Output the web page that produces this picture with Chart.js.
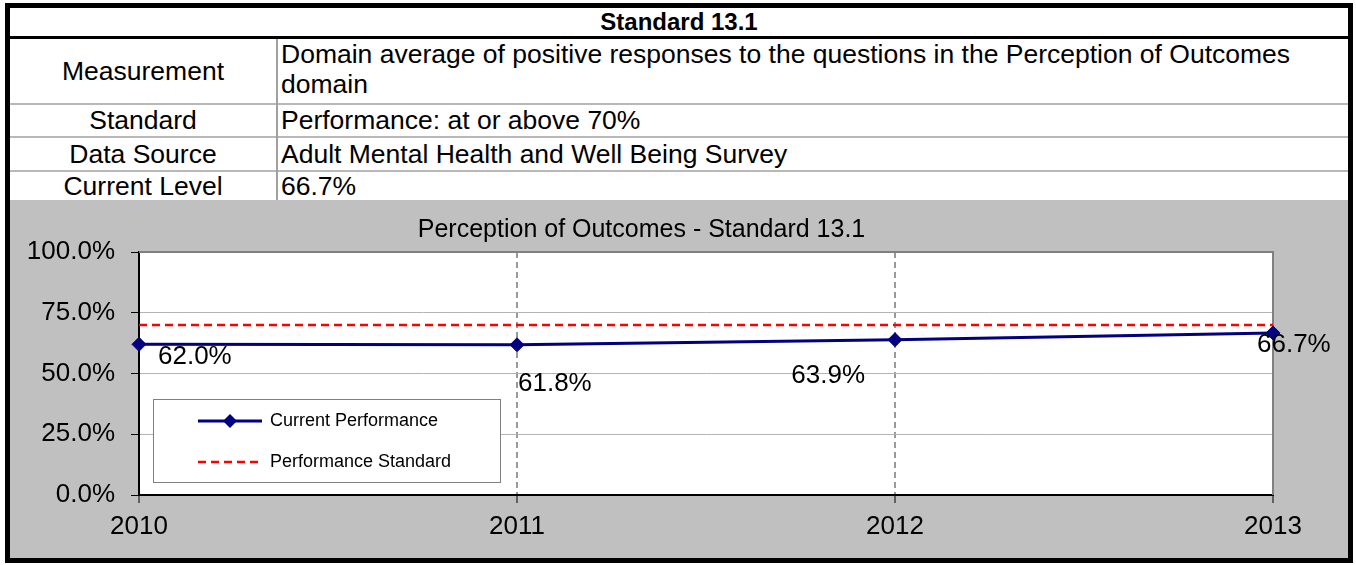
<!DOCTYPE html>
<html><head><meta charset="utf-8">
<script src="https://cdn.jsdelivr.net/npm/chart.js@4.4.1/dist/chart.umd.min.js"></script>
<style>
body{margin:0;background:#fff;font-family:"Liberation Sans",Arial,sans-serif;color:#000;}
#frame{position:absolute;left:5px;top:3px;width:1348px;height:560px;border:5px solid #000;box-sizing:border-box;background:#fff;}
.lbl{position:absolute;left:0;width:266px;display:flex;align-items:center;justify-content:center;font-size:26.5px;white-space:nowrap;}
.val{position:absolute;left:271px;width:1060px;display:flex;align-items:center;font-size:26.5px;white-space:nowrap;}
.sep{position:absolute;left:0;width:1338px;height:2px;background:#b8b8b8;}
#hdr{position:absolute;left:0;top:0;width:1338px;height:28px;display:flex;align-items:center;justify-content:center;font-size:24px;font-weight:bold;}
#hline{position:absolute;left:0;top:28px;width:1338px;height:3px;background:#000;}
#vdiv{position:absolute;left:266px;top:31px;width:2px;height:161px;background:#a0a0a0;}
#gray{position:absolute;left:0;top:192px;width:1338px;height:358px;background:#c0c0c0;}
#meas{position:absolute;left:271px;top:31px;font-size:26.5px;line-height:30px;}
canvas{position:absolute;left:0;top:0;}
</style>
</head><body>
<div id="frame">
  <div id="hdr">Standard 13.1</div>
  <div id="hline"></div>
  <div class="lbl" style="top:31px;height:64px;">Measurement</div>
  <div id="meas">Domain average of positive responses to the questions in the Perception of Outcomes<br>domain</div>
  <div class="sep" style="top:95px;"></div>
  <div class="lbl" style="top:97px;height:31px;">Standard</div>
  <div class="val" style="top:97px;height:31px;">Performance: at or above 70%</div>
  <div class="sep" style="top:128px;"></div>
  <div class="lbl" style="top:130px;height:32px;">Data Source</div>
  <div class="val" style="top:130px;height:32px;">Adult Mental Health and Well Being Survey</div>
  <div class="sep" style="top:162px;"></div>
  <div class="lbl" style="top:164px;height:28px;">Current Level</div>
  <div class="val" style="top:164px;height:28px;">66.7%</div>
  <div id="vdiv"></div>
  <div id="gray"><canvas id="c" width="1338" height="358"></canvas></div>
</div>
<script>
const categories = ['2010', '2011', '2012', '2013'];
const currentPerformance = [62.0, 61.8, 63.9, 66.7];
const performanceStandard = [70, 70, 70, 70];
const seriesNames = ['Current Performance', 'Performance Standard'];
const chartTitle = 'Perception of Outcomes - Standard 13.1';
const yMin = 0, yMax = 100, yStep = 25;

const FONT = '"Liberation Sans", Arial, sans-serif';
const NAVY = '#000080', RED = '#ff0000';

const plotBg = {
  id: 'plotBg',
  beforeDraw(chart) {
    const {ctx, chartArea: a} = chart;
    ctx.save(); ctx.fillStyle = '#fff';
    ctx.fillRect(a.left, a.top, a.right - a.left, a.bottom - a.top);
    ctx.restore();
  },
  beforeDatasetsDraw(chart) {
    const {ctx, chartArea: a} = chart;
    ctx.save(); ctx.strokeStyle = '#808080'; ctx.lineWidth = 2;
    ctx.beginPath();
    ctx.moveTo(a.left, a.top); ctx.lineTo(a.right, a.top); ctx.lineTo(a.right, a.bottom);
    ctx.stroke(); ctx.restore();
  }
};

const labelOffsets = [
  {dx: 19, dy: 12, align: 'left'},
  {dx: 1, dy: 39, align: 'left'},
  {dx: -30, dy: 36, align: 'right'},
  {dx: -16, dy: 12, align: 'left'}
];

const dataLabels = {
  id: 'dataLabels',
  afterDraw(chart) {
    const {ctx} = chart;
    const meta = chart.getDatasetMeta(0);
    ctx.save();
    ctx.font = '26px ' + FONT; ctx.fillStyle = '#000'; ctx.textBaseline = 'middle';
    meta.data.forEach((pt, i) => {
      const o = labelOffsets[i];
      ctx.textAlign = o.align;
      ctx.fillText(currentPerformance[i].toFixed(1) + '%', pt.x + o.dx, pt.y + o.dy);
    });
    ctx.restore();
  }
};

const legendBox = {
  id: 'legendBox',
  afterDraw(chart) {
    const {ctx} = chart;
    const x = 143, y = 199, w = 347, h = 83;
    ctx.save();
    ctx.fillStyle = '#fff'; ctx.fillRect(x, y, w, h);
    ctx.strokeStyle = '#808080'; ctx.lineWidth = 1; ctx.strokeRect(x + 0.5, y + 0.5, w, h);
    const rows = [y + 22, y + 63];
    ctx.strokeStyle = NAVY; ctx.lineWidth = 3;
    ctx.beginPath(); ctx.moveTo(188, rows[0]); ctx.lineTo(252, rows[0]); ctx.stroke();
    ctx.fillStyle = NAVY; ctx.beginPath();
    const cx = 220, cy = rows[0], r = 7;
    ctx.moveTo(cx - r, cy); ctx.lineTo(cx, cy - r); ctx.lineTo(cx + r, cy); ctx.lineTo(cx, cy + r); ctx.closePath(); ctx.fill();
    ctx.strokeStyle = RED; ctx.lineWidth = 2.5; ctx.setLineDash([8, 5]);
    ctx.beginPath(); ctx.moveTo(188, rows[1]); ctx.lineTo(252, rows[1]); ctx.stroke();
    ctx.setLineDash([]);
    ctx.fillStyle = '#000'; ctx.font = '18px ' + FONT; ctx.textBaseline = 'middle'; ctx.textAlign = 'left';
    ctx.fillText(seriesNames[0], 260, rows[0]);
    ctx.fillText(seriesNames[1], 260, rows[1]);
    ctx.restore();
  }
};

new Chart(document.getElementById('c'), {
  type: 'line',
  data: {
    labels: categories,
    datasets: [
      {label: seriesNames[0], data: currentPerformance, borderColor: NAVY, backgroundColor: NAVY, borderWidth: 3,
       pointStyle: 'rectRot', pointRadius: 7, pointBorderWidth: 1, pointBackgroundColor: NAVY, pointBorderColor: NAVY, tension: 0},
      {label: seriesNames[1], data: performanceStandard, borderColor: RED, borderWidth: 2.5, borderDash: [8, 5],
       pointRadius: 0, tension: 0}
    ]
  },
  options: {
    responsive: false, animation: false, devicePixelRatio: 1, events: [],
    layout: {padding: {left: 0, right: 75, top: 0, bottom: 0}},
    plugins: {
      legend: {display: false}, tooltip: {enabled: false},
      title: {display: true, text: chartTitle, color: '#000', font: {family: FONT, size: 25, weight: 'normal'},
              padding: {top: 15, bottom: 7}}
    },
    scales: {
      x: {
        type: 'category', offset: false,
        grid: {color: (c) => (c.index === 0 ? 'rgba(0,0,0,0)' : '#999999'), lineWidth: 2, tickColor: '#000', tickWidth: 1, tickLength: 8, tickBorderDash: []},
        border: {display: true, color: '#000', width: 2, dash: [6, 4]},
        ticks: {color: '#000', font: {family: FONT, size: 26}, padding: 8, maxRotation: 0, autoSkip: false},
        afterFit(s) { s.height = 63; }
      },
      y: {
        min: yMin, max: yMax,
        grid: {color: (c) => (c.index === 0 ? 'rgba(0,0,0,0)' : '#b4b4b4'), lineWidth: 1, tickColor: '#000', tickLength: 8},
        border: {display: true, color: '#000', width: 2},
        ticks: {stepSize: yStep, color: '#000', font: {family: FONT, size: 26}, padding: 16,
                callback: (v) => Number(v).toFixed(1) + '%'},
        afterFit(s) { s.width = 129; }
      }
    }
  },
  plugins: [plotBg, dataLabels, legendBox]
});
</script>
</body></html>
